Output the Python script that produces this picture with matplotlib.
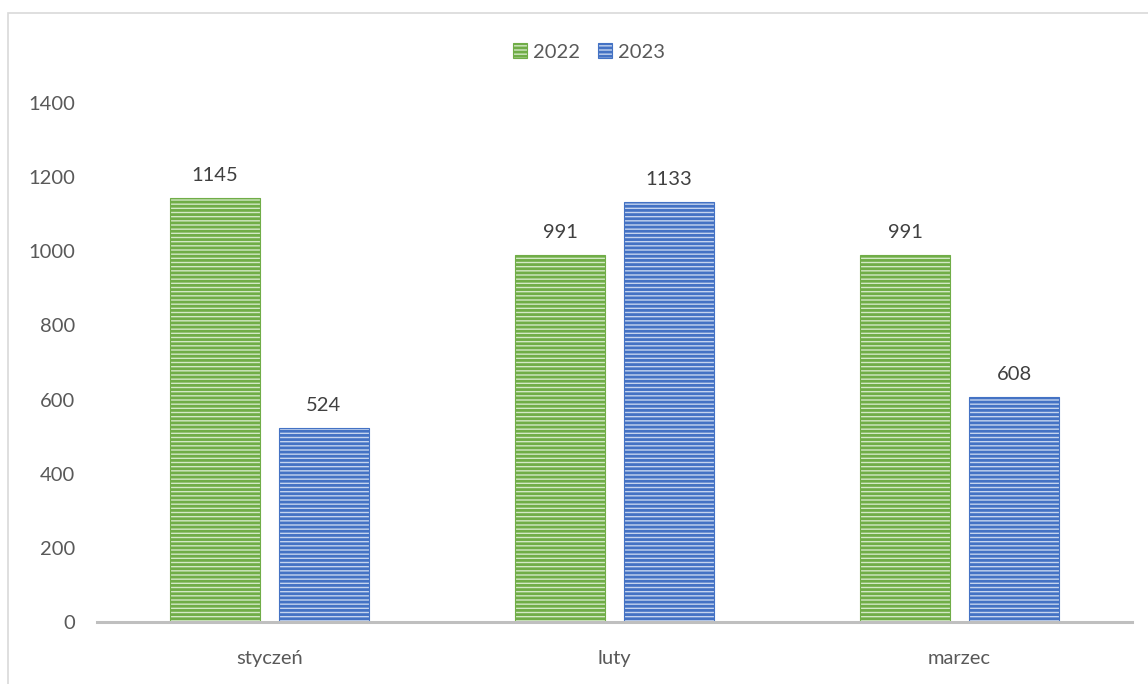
import matplotlib.pyplot as plt
import matplotlib.patches as mpatches
import numpy as np

months = ['styczeń', 'luty', 'marzec']
vals_2022 = [1145, 991, 991]
vals_2023 = [524, 1133, 608]

plt.rcParams['font.family'] = ['Lato', 'DejaVu Sans']
plt.rcParams['hatch.linewidth'] = 2.0

fig = plt.figure(figsize=(11.48, 6.84), dpi=100)
ax = fig.add_axes([97/1148, 62/684, 1035/1148, 519/684])

x = np.arange(len(months))
w = 0.261
off = 0.158

b1 = ax.bar(x - off, vals_2022, w, color='#d3e9c6', edgecolor='#70ad47', hatch='----', linewidth=0.8, label='2022')
b2 = ax.bar(x + off, vals_2023, w, color='#c5d4ef', edgecolor='#4472c4', hatch='----', linewidth=0.8, label='2023')

for bars in (b1, b2):
    for r in bars:
        ax.annotate(str(int(r.get_height())), (r.get_x() + r.get_width()/2, r.get_height()),
                    xytext=(0, 10), textcoords='offset points', ha='center', va='bottom',
                    fontsize=14.5, color='#404040')

ax.set_xlim(-0.5, 2.5)
ax.set_ylim(0, 1400)
ax.set_yticks(range(0, 1401, 200))
ax.set_xticks(x)
ax.set_xticklabels(months)
ax.tick_params(axis='both', length=0, labelsize=14.5, labelcolor='#595959')
ax.tick_params(axis='y', pad=16)
ax.tick_params(axis='x', pad=20)
for s in ['top', 'right', 'left']:
    ax.spines[s].set_visible(False)
ax.spines['bottom'].set_color('#bfbfbf')
ax.spines['bottom'].set_linewidth(2.2)

fig.legend(handles=[b1, b2], loc='center', bbox_to_anchor=(589/1148, 1 - 52/684), ncol=2,
           frameon=False, fontsize=14.5, labelcolor='#595959', handlelength=0.7, handleheight=0.7,
           handletextpad=0.3, columnspacing=0.9)

frame = mpatches.Rectangle((8/1148, -0.1), 1.2, 1.1 - 13/684, transform=fig.transFigure,
                           fill=False, edgecolor='#d9d9d9', linewidth=1.2)
fig.patches.append(frame)

fig.savefig('out.png', dpi=100)
